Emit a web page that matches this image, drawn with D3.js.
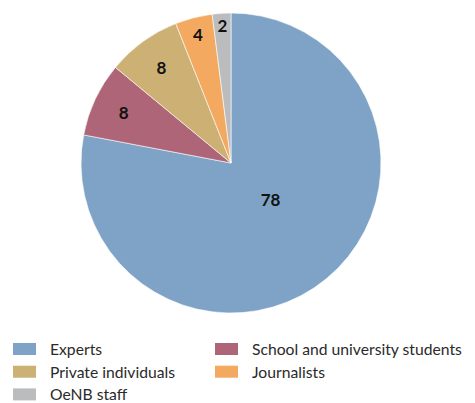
<!DOCTYPE html>
<html>
<head>
<meta charset="utf-8">
<script src="https://cdn.jsdelivr.net/npm/d3@7"></script>
<style>
  html, body { margin: 0; padding: 0; background: #fff; }
  svg { display: block; }
</style>
</head>
<body>
<svg id="chart" width="475" height="403"></svg>
<script>
// Survey respondents by group (percent)
const categories = ["Experts", "School and university students", "Private individuals", "Journalists", "OeNB staff"];
const shares = [78, 8, 8, 4, 2];
const colors = ["#7ea3c6", "#ad6577", "#ccb074", "#f3a95f", "#bbbcbe"];
// legend is laid out in two columns, row by row
const legendOrder = ["Experts", "School and university students", "Private individuals", "Journalists", "OeNB staff"];

const svg = d3.select("#chart");
const cx = 231, cy = 163, R = 150;
const font = "Lato, 'Open Sans', sans-serif";

const color = d3.scaleOrdinal().domain(categories).range(colors);

const pie = d3.pie().sort(null).value(d => d.value);
const arcs = pie(categories.map((c, i) => ({ name: c, value: shares[i] })));
const arc = d3.arc().innerRadius(0).outerRadius(R);

const g = svg.append("g").attr("transform", `translate(${cx},${cy})`);

g.selectAll("path.slice")
  .data(arcs)
  .join("path")
  .attr("class", "slice")
  .attr("d", arc)
  .attr("fill", d => color(d.data.name))
  .attr("stroke", "#fff")
  .attr("stroke-width", 0.6);

// label distance from centre: small slices push their labels toward the rim
const labelRadius = d3.scaleLinear().domain([2, 4, 8, 78]).range([0.92, 0.885, 0.79, 0.36]);

g.selectAll("text.value")
  .data(arcs)
  .join("text")
  .attr("class", "value")
  .attr("transform", d => {
    const a = (d.startAngle + d.endAngle) / 2 - (d.data.value > 50 ? 0.13 : 0);
    const r = R * labelRadius(d.data.value);
    return `translate(${r * Math.sin(a)},${-r * Math.cos(a)})`;
  })
  .attr("text-anchor", "middle")
  .attr("dominant-baseline", "central")
  .attr("font-family", font)
  .attr("font-weight", "bold")
  .attr("font-size", 17)
  .attr("fill", "#111")
  .text(d => d.data.value);

// legend
const legend = svg.append("g");
const colX = [13, 215], rowY0 = 349, rowH = 22.7;
legendOrder.forEach((name, i) => {
  const x = colX[i % 2], y = rowY0 + Math.floor(i / 2) * rowH;
  legend.append("rect")
    .attr("x", x).attr("y", y - 6)
    .attr("width", 23).attr("height", 12)
    .attr("fill", color(name));
  legend.append("text")
    .attr("x", x + 37).attr("y", y)
    .attr("dominant-baseline", "central")
    .attr("font-family", font)
    .attr("font-size", 15.7)
    .attr("fill", "#2a2a2a")
    .text(name);
});
</script>
</body>
</html>
